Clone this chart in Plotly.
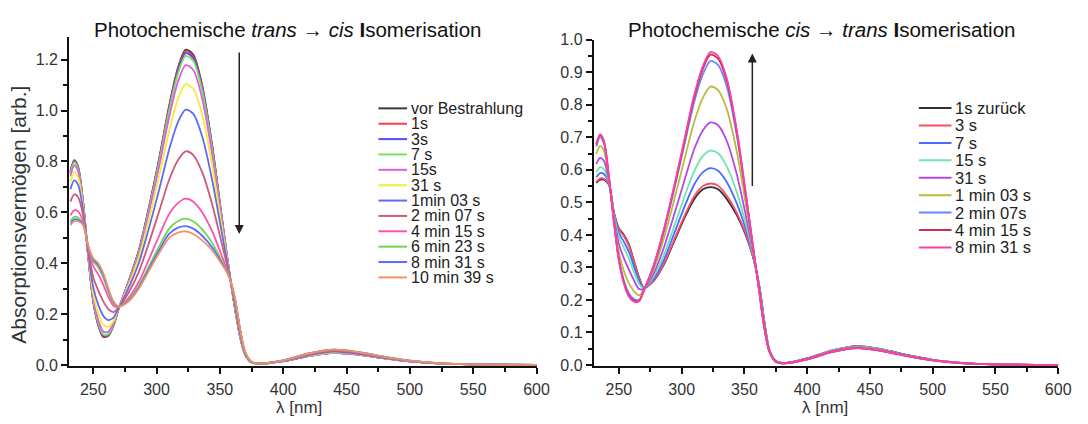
import plotly.graph_objects as go

W, H = 1088, 424

# ---------------- data ----------------
WL = [232, 235, 238, 242, 246, 250, 254, 258, 262, 266, 270, 278, 286, 294, 302, 310, 317, 323,
      329, 336, 344, 351, 357, 362, 366, 370, 375, 382, 400, 420, 440, 460, 480, 500, 525, 550, 600]

# left panel: trans -> cis
L_vor = [.760, .805, .780, .640, .430, .250, .155, .110, .115, .155, .220, .330, .450, .620, .810, 1.020, 1.170, 1.240,
         1.220, 1.100, .860, .600, .380, .220, .110, .040, .010, .005, .015, .035, .048, .040, .026, .014, .005, .002, 0]
L_1s = [.758, .803, .778, .639, .430, .252, .157, .113, .117, .156, .220, .329, .449, .618, .806, 1.015, 1.164, 1.233,
        1.213, 1.094, .856, .598, .380, .220, .110, .040, .010, .005, .015, .035, .048, .040, .026, .014, .005, .002, 0]
L_3s = [.756, .800, .776, .638, .431, .253, .160, .115, .119, .157, .220, .328, .447, .615, .803, 1.010, 1.157, 1.226,
        1.206, 1.088, .852, .596, .379, .221, .111, .040, .010, .005, .015, .035, .048, .040, .026, .014, .005, .002, 0]
L_7s = [.753, .797, .772, .637, .431, .256, .164, .119, .121, .158, .220, .327, .445, .611, .797, 1.002, 1.147, 1.215,
        1.195, 1.079, .846, .593, .379, .221, .111, .040, .010, .005, .015, .035, .048, .040, .026, .014, .005, .002, 0]
L_15s = [.742, .785, .762, .632, .433, .264, .176, .131, .131, .163, .221, .323, .437, .599, .779, .976, 1.115, 1.179,
         1.160, 1.048, .825, .583, .377, .223, .113, .041, .010, .005, .015, .036, .049, .041, .026, .014, .005, .002, 0]
L_31s = [.720, .759, .739, .623, .438, .282, .202, .158, .150, .173, .222, .315, .422, .573, .740, .921, 1.047, 1.104,
         1.086, .984, .782, .562, .374, .228, .116, .042, .010, .005, .016, .037, .050, .042, .027, .015, .005, .002, 0]
L_1m03 = [.691, .726, .709, .610, .443, .306, .236, .193, .176, .186, .223, .304, .401, .538, .688, .848, .956, 1.004,
          .987, .899, .725, .534, .370, .233, .120, .043, .011, .005, .016, .038, .052, .043, .028, .015, .005, .002, 0]
L_2m07 = [.642, .671, .660, .590, .452, .345, .292, .250, .219, .208, .226, .285, .366, .480, .603, .729, .806, .840,
          .825, .758, .630, .488, .363, .242, .127, .046, .011, .006, .017, .041, .055, .046, .029, .016, .006, .002, 0]
L_4m15 = [.588, .608, .604, .566, .463, .389, .356, .315, .267, .233, .228, .264, .327, .415, .507, .594, .637, .654,
          .642, .600, .524, .436, .355, .253, .135, .048, .012, .006, .017, .043, .058, .048, .031, .016, .006, .002, 0]
L_6m23 = [.565, .582, .580, .556, .467, .408, .383, .343, .287, .243, .229, .256, .311, .388, .466, .536, .566, .575,
          .564, .533, .479, .414, .352, .257, .138, .049, .012, .006, .018, .045, .060, .050, .032, .017, .006, .002, 0]
L_8m31 = [.556, .572, .571, .553, .469, .415, .393, .353, .294, .247, .230, .252, .305, .378, .451, .516, .540, .546,
          .536, .508, .462, .406, .351, .259, .139, .050, .012, .006, .018, .045, .060, .050, .032, .017, .006, .002, 0]
L_10m39 = [.550, .565, .565, .550, .470, .420, .400, .360, .300, .250, .230, .250, .300, .370, .440, .500, .520, .525,
           .515, .490, .450, .400, .350, .260, .140, .050, .012, .006, .018, .045, .060, .050, .032, .017, .006, .002, 0]

LEFT_NAMES = ["vor Bestrahlung", "1s", "3s", "7 s", "15s", "31 s", "1min 03 s", "2 min 07 s",
              "4 min 15 s", "6 min 23 s", "8 min 31 s", "10 min 39 s"]
LEFT_VALUES = [L_vor, L_1s, L_3s, L_7s, L_15s, L_31s, L_1m03, L_2m07, L_4m15, L_6m23, L_8m31, L_10m39]
LEFT_COLORS = ["#3a3a3a", "#ff3b4e", "#4d4dff", "#7ee05a", "#e05ce0", "#f2ec3a", "#5f6af5", "#cc5a78",
               "#ff4fb4", "#6fd64f", "#5a6cff", "#f29163"]

# right panel: cis -> trans
R_1s = [.560, .570, .570, .555, .470, .420, .400, .370, .320, .270, .237, .260, .310, .380, .450, .510, .540, .547,
        .540, .510, .460, .400, .330, .240, .130, .045, .012, .006, .020, .045, .058, .048, .030, .016, .006, .002, 0]
R_3s = [.563, .574, .573, .556, .469, .417, .396, .366, .317, .268, .237, .261, .313, .385, .456, .519, .550, .558,
        .551, .520, .467, .404, .331, .239, .129, .045, .012, .006, .020, .045, .058, .048, .030, .016, .006, .002, 0]
R_7s = [.577, .590, .587, .559, .466, .406, .379, .348, .303, .260, .236, .267, .325, .404, .484, .555, .593, .605,
        .597, .562, .496, .418, .334, .237, .127, .044, .012, .006, .020, .044, .057, .047, .030, .016, .006, .002, 0]
R_15s = [.592, .608, .602, .562, .462, .393, .360, .327, .286, .250, .235, .274, .340, .426, .515, .596, .643, .659,
         .651, .610, .530, .435, .338, .235, .125, .044, .011, .006, .019, .044, .056, .047, .029, .015, .006, .002, 0]
R_31s = [.618, .637, .628, .567, .456, .372, .328, .293, .260, .234, .234, .284, .363, .462, .565, .664, .722, .746,
         .737, .688, .585, .462, .344, .230, .120, .043, .011, .006, .019, .043, .055, .046, .029, .015, .006, .002, 0]
R_1m03 = [.649, .674, .659, .574, .448, .346, .288, .251, .227, .214, .232, .297, .392, .507, .629, .748, .823, .856,
          .845, .786, .654, .497, .352, .225, .115, .041, .011, .005, .018, .041, .054, .044, .028, .015, .005, .002, 0]
R_2m07 = [.672, .701, .682, .578, .442, .327, .260, .220, .203, .200, .230, .307, .413, .539, .674, .809, .895, .935,
          .923, .856, .703, .522, .358, .221, .111, .040, .010, .005, .017, .040, .052, .043, .027, .014, .005, .002, 0]
R_4m15 = [.678, .707, .688, .580, .441, .322, .253, .213, .198, .197, .230, .309, .418, .547, .685, .824, .912, .954,
          .942, .873, .715, .527, .359, .220, .110, .040, .010, .005, .017, .040, .052, .043, .027, .014, .005, .002, 0]
R_8m31 = [.680, .710, .690, .580, .440, .320, .250, .210, .195, .195, .230, .310, .420, .550, .690, .830, .920, .962,
          .950, .880, .720, .530, .360, .220, .110, .040, .010, .005, .017, .040, .052, .043, .027, .014, .005, .002, 0]

RIGHT_NAMES = ["1s zurück", "3 s", "7 s", "15 s", "31 s", "1 min 03 s", "2 min 07s", "4 min 15 s", "8 min 31 s"]
RIGHT_VALUES = [R_1s, R_3s, R_7s, R_15s, R_31s, R_1m03, R_2m07, R_4m15, R_8m31]
RIGHT_COLORS = ["#333333", "#ff4d64", "#4a6bff", "#6fe3b3", "#b447e6", "#bdb93a", "#6a86ff", "#c4304f", "#ff3fa6"]

X_TICKS = [250, 300, 350, 400, 450, 500, 550, 600]
LEFT_Y_TICKS = [0.0, 0.2, 0.4, 0.6, 0.8, 1.0, 1.2]
RIGHT_Y_TICKS = [0.0, 0.1, 0.2, 0.3, 0.4, 0.5, 0.6, 0.7, 0.8, 0.9, 1.0]

# ---------------- figure ----------------
FONT = "Liberation Sans, Arial, Helvetica, sans-serif"
fig = go.Figure()

for name, vals, col in zip(LEFT_NAMES, LEFT_VALUES, LEFT_COLORS):
    fig.add_trace(go.Scatter(x=WL, y=vals, name=name, mode="lines", xaxis="x", yaxis="y",
                             line=dict(color=col, width=1.8, shape="spline", smoothing=0.8),
                             showlegend=False))
for name, vals, col in zip(RIGHT_NAMES, RIGHT_VALUES, RIGHT_COLORS):
    fig.add_trace(go.Scatter(x=WL, y=vals, name=name, mode="lines", xaxis="x2", yaxis="y2",
                             line=dict(color=col, width=1.8, shape="spline", smoothing=0.8),
                             showlegend=False))


def px(x):
    return x / W


def py(y):
    return 1 - y / H


axis_common = dict(showgrid=False, zeroline=False, showline=True, linecolor="#111", linewidth=2,
                   ticks="outside", ticklen=6, tickwidth=1.5, tickcolor="#111",
                   tickfont=dict(family=FONT, size=16, color="#333"))
minor_x = dict(dtick=25, tick0=0, ticks="outside", ticklen=4, tickcolor="#111", tickwidth=1.5)

fig.update_layout(
    width=W, height=H, margin=dict(l=0, r=0, t=0, b=0),
    paper_bgcolor="white", plot_bgcolor="white",
    xaxis=dict(domain=[px(70), px(543)], range=[231, 600], anchor="y", tickvals=X_TICKS,
               ticklabelstandoff=2, minor=minor_x, **axis_common),
    yaxis=dict(domain=[py(372), py(30)], range=[-0.004, 1.29], anchor="x", tickvals=LEFT_Y_TICKS,
               tickformat=".1f",
               minor=dict(dtick=0.1, tick0=0, ticks="outside", ticklen=4, tickcolor="#111", tickwidth=1.5),
               **axis_common),
    xaxis2=dict(domain=[px(601), px(1071)], range=[230, 600], anchor="y2", tickvals=X_TICKS,
                ticklabelstandoff=2, minor=minor_x, **axis_common),
    yaxis2=dict(domain=[py(372), py(33)], range=[-0.003, 1.0], anchor="x2", tickvals=RIGHT_Y_TICKS,
                tickformat=".1f",
                minor=dict(dtick=0.05, tick0=0, ticks="outside", ticklen=4, tickcolor="#111", tickwidth=1.5),
                **axis_common),
)

ann = []
# titles
ann.append(dict(text="Photochemische <i>trans</i> \u2192 <i>cis</i> <b>I</b>somerisation", x=px(291), y=py(22),
                xref="paper", yref="paper", showarrow=False, xanchor="center", yanchor="middle",
                font=dict(family=FONT, size=20.5, color="#111")))
ann.append(dict(text="Photochemische <i>cis</i> \u2192 <i>trans</i> <b>I</b>somerisation", x=px(831), y=py(22),
                xref="paper", yref="paper", showarrow=False, xanchor="center", yanchor="middle",
                font=dict(family=FONT, size=20.5, color="#111")))
# axis titles
ann.append(dict(text="\u03bb [nm]", x=px(303), y=py(415), xref="paper", yref="paper", showarrow=False,
                xanchor="center", yanchor="middle", font=dict(family=FONT, size=17, color="#333")))
ann.append(dict(text="\u03bb [nm]", x=px(835), y=py(415), xref="paper", yref="paper", showarrow=False,
                xanchor="center", yanchor="middle", font=dict(family=FONT, size=17, color="#333")))
ann.append(dict(text="Absorptionsvermögen [arb.]", x=px(19), y=py(215), xref="paper", yref="paper",
                showarrow=False, textangle=-90, xanchor="center", yanchor="middle",
                font=dict(family=FONT, size=21, color="#333")))
# arrows
ann.append(dict(x=365.3, y=0.515, ax=365.3, ay=1.234, xref="x", yref="y", axref="x", ayref="y",
                showarrow=True, arrowhead=2, arrowsize=1.2, arrowwidth=1.5, arrowcolor="#222", text=""))
ann.append(dict(x=356.3, y=0.958, ax=356.3, ay=0.546, xref="x2", yref="y2", axref="x2", ayref="y2",
                showarrow=True, arrowhead=2, arrowsize=1.2, arrowwidth=1.5, arrowcolor="#222", text=""))

shapes = []
# left legend
for i, (name, col) in enumerate(zip(LEFT_NAMES, LEFT_COLORS)):
    yc = 104.3 + i * 15.97
    shapes.append(dict(type="line", xref="paper", yref="paper", x0=px(383), x1=px(412), y0=py(yc), y1=py(yc),
                       line=dict(color=col, width=2)))
    ann.append(dict(text=name, x=px(414), y=py(yc), xref="paper", yref="paper", showarrow=False,
                    xanchor="left", yanchor="middle", font=dict(family=FONT, size=16, color="#222")))
# right legend
for i, (name, col) in enumerate(zip(RIGHT_NAMES, RIGHT_COLORS)):
    yc = 104 + i * 18.1
    shapes.append(dict(type="line", xref="paper", yref="paper", x0=px(930), x1=px(963), y0=py(yc), y1=py(yc),
                       line=dict(color=col, width=2)))
    ann.append(dict(text=name, x=px(965), y=py(yc), xref="paper", yref="paper", showarrow=False,
                    xanchor="left", yanchor="middle", font=dict(family=FONT, size=16.5, color="#222")))

fig.update_layout(annotations=ann, shapes=shapes)
fig.write_html("out.html")
